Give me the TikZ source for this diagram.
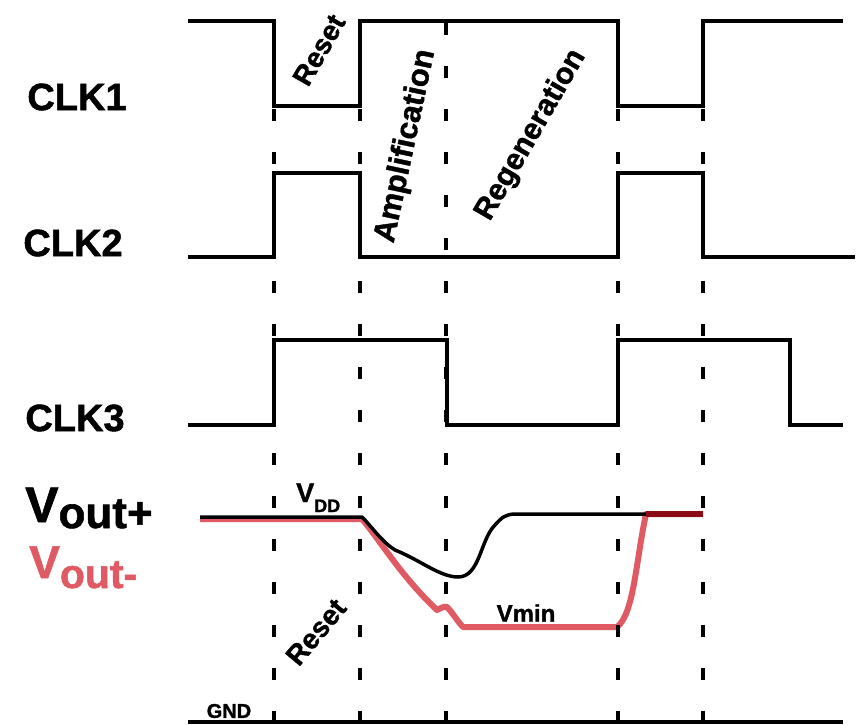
\documentclass[tikz,border=0pt]{standalone}
\usepackage{fontspec}
\setmainfont{Liberation Sans}[BoldFeatures={FakeBold=1.3}]
\usepackage{xcolor}
\definecolor{vneg}{RGB}{224,90,100}
\definecolor{vboth}{RGB}{140,10,20}
\newcommand\sz[1]{\fontsize{#1}{#1}\selectfont\bfseries}

\begin{document}
\begin{tikzpicture}[x=1pt,y=-1pt,
  wave/.style={line width=4.5pt,line join=miter},
  phase/.style={line width=4pt,dash pattern=on 12pt off 31pt},
  tilt/.style={inner sep=0pt}]
  \useasboundingbox (0,0) rectangle (867,725);
  \draw[wave] (188,21) -- (274,21) -- (274,106) -- (360,106) -- (360,21) -- (618,21)
    -- (618,106) -- (703,106) -- (703,21) -- (843,21);
  \draw[wave] (188,257) -- (274,257) -- (274,173) -- (360,173) -- (360,257) -- (618,257)
    -- (618,173) -- (703,173) -- (703,257) -- (855,257);
  \draw[wave] (188,425) -- (274,425) -- (274,340) -- (447,340) -- (447,425) -- (618,425)
    -- (618,340) -- (790,340) -- (790,425) -- (843,425);
  \draw[line width=4pt] (188,722) -- (843,722);
  \node[font=\sz{38}] (clka) at (77,97) {CLK1};
  \node[font=\sz{38}] (clkb) at (73,243) {CLK2};
  \node[font=\sz{38}] (clkc) at (75,418) {CLK3};
  \draw[line width=6pt,vneg,line join=round] (200,519) -- (362,519)
    .. controls (380,540) and (400,575) .. (437,610)
    .. controls (441,608) and (444,606) .. (447,607)
    .. controls (452,612) and (458,622) .. (463,627)
    -- (617,627)
    .. controls (634,614) and (636,560) .. (646,514)
    -- (703,514);
  \draw[line width=3.5pt,line join=round] (200,517) -- (362,517)
    .. controls (372,527) and (382,542) .. (395,550)
    .. controls (420,560) and (440,577) .. (458,577)
    .. controls (480,577) and (480,540) .. (495,525)
    .. controls (502,517) and (506,514) .. (516,514)
    -- (646,514);
  \draw[line width=6pt,vboth] (646,514) -- (703,514);
  \foreach \x in {274,360,446,618,703}
    \draw[phase] (\x,23) -- (\x,725);
  \node[anchor=base west,inner sep=0pt] (voutp) at (25,522)
    {\sz{50}V\raisebox{-6pt}{\sz{44}out+}};
  \node[anchor=base west,inner sep=0pt,text=vneg] (voutm) at (29,578)
    {\sz{46}V\raisebox{-10pt}{\sz{41}out-}};
  \node[anchor=base west,inner sep=0pt] (vdd) at (296,502)
    {\sz{27}V\raisebox{-10pt}{\sz{18}DD}};
  \node[font=\sz{24}] (vmin) at (526,613) {Vmin};
  \node[font=\sz{20}] (gnd) at (229,711) {GND};
  \node[tilt,font=\sz{28},rotate=60] (rsta) at (319,50) {Reset};
  \node[tilt,font=\sz{31},rotate=78] (ampl) at (406,146) {Amplification};
  \node[tilt,font=\sz{30},rotate=60] (regen) at (531,135) {Regeneration};
  \node[tilt,font=\sz{28},rotate=50] (rstb) at (316,632) {Reset};
\end{tikzpicture}
\end{document}
